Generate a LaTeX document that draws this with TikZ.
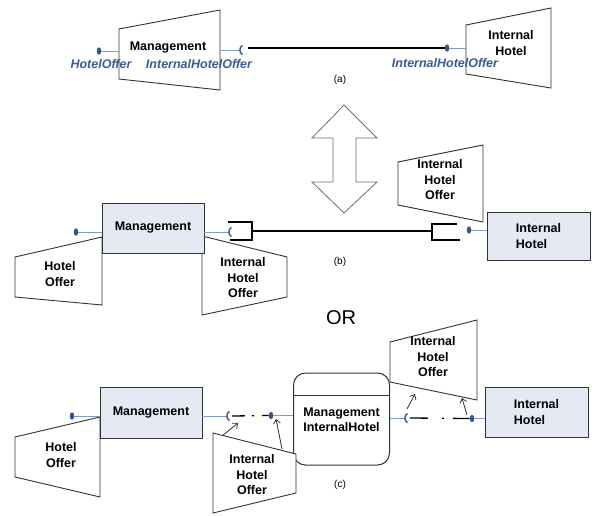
\documentclass[tikz,border=0pt]{standalone}
\usepackage{fontspec}
\setmainfont{Liberation Sans}
\usetikzlibrary{arrows.meta,shapes.geometric}

\definecolor{portline}{RGB}{127,156,200}
\definecolor{portdark}{RGB}{52,86,140}
\definecolor{labelblue}{RGB}{59,91,146}
\definecolor{boxfill}{RGB}{228,233,243}
\definecolor{edge}{RGB}{50,50,50}
\definecolor{arrowgray}{RGB}{110,110,110}

\tikzset{
  lbl/.style={font=\fontsize{12.5}{15.5}\selectfont\bfseries, align=center, inner sep=0pt},
  lblL/.style={lbl, align=left},
  portlbl/.style={font=\fontsize{12.5}{15}\selectfont\bfseries\itshape, text=labelblue, inner sep=0pt},
  caption/.style={font=\fontsize{10}{12}\selectfont, inner sep=0pt},
  box/.style={draw=edge, line width=0.9pt, fill=boxfill},
  trap/.style={draw=edge, line width=0.9pt, fill=white},
  ball/.style={ellipse, fill=portdark, minimum width=4.5pt, minimum height=7.5pt, inner sep=0pt},
  pline/.style={portline, line width=1pt},
  sock/.style={portdark, line width=1.4pt},
  wire/.style={black, line width=1.3pt},
  bracket/.style={black, line width=1.2pt},
  ptr/.style={edge, line width=0.8pt, -{Straight Barb[length=4pt,width=7pt]}},
  socket/.pic={\draw[sock] (2.5,-4.5) .. controls (-1,-3) and (-1,3) .. (2.5,4.5);}
}

\begin{document}
\begin{tikzpicture}[x=1pt,y=-1pt]
\useasboundingbox (0,0) rectangle (592,515);

% ---------------- (a) ----------------
\coordinate (tMa1) at (119,29);
\coordinate (tMa2) at (220,10);
\coordinate (tMa3) at (220,90);
\coordinate (tMa4) at (119,79);
\draw[trap] (tMa1) -- (tMa2) -- (tMa3) -- (tMa4) -- cycle;
\node[lbl] (mgmtA) at (168,48) {Management};

\coordinate (tIa1) at (466,25);
\coordinate (tIa2) at (551,8);
\coordinate (tIa3) at (551,88);
\coordinate (tIa4) at (466,74);
\draw[trap] (tIa1) -- (tIa2) -- (tIa3) -- (tIa4) -- cycle;
\node[lbl] (ihA) at (511,43) {Internal\\Hotel};

\node[ball] (hoBallA) at (99,51) {};
\draw[pline] (hoBallA) -- (hoBallA -| tMa1);

\coordinate (ihoSockA) at (240,50);
\draw[pline] (tMa2 |- ihoSockA) -- (ihoSockA);
\pic at (ihoSockA) {socket};

\coordinate (wireA) at (248,48);
\node[ball] (ihoBallA) at (447,48) {};
\draw[wire] (wireA) -- (ihoBallA.west);
\draw[pline] (ihoBallA) -- (ihoBallA -| tIa1);

\node[portlbl] (hoLblA) at (101,64) {HotelOffer};
\node[portlbl] (ihoLblA) at (199,64) {InternalHotelOffer};
\node[portlbl] (ihoLblA2) at (445,63) {InternalHotelOffer};
\node[caption] (capA) at (340,80) {(a)};

% ---------------- double arrow ----------------
\draw[arrowgray, line width=0.8pt, fill=white]
  (344,105) -- (377,138) -- (356,138) -- (356,182) -- (377,182) -- (344,213)
  -- (312,182) -- (333,182) -- (333,138) -- (312,138) -- cycle;

% ---------------- (b) ----------------
\draw[trap] (15,257) -- (102,237) -- (102,305) -- (15,297) -- cycle;
\node[lbl] (hoB) at (60,274) {Hotel\\Offer};

\draw[trap] (202,236) -- (287,257) -- (287,297) -- (202,315) -- cycle;
\node[lbl] (ihoB1) at (243,278) {Internal\\Hotel\\Offer};

\draw[trap] (398,162) -- (483,145) -- (483,222) -- (398,205) -- cycle;
\node[lbl] (ihoB2) at (440,180) {Internal\\Hotel\\Offer};

\node[box, minimum width=102pt, minimum height=50pt] (mgmtB) at (153,228) {};
\node[lbl] at (mgmtB) {Management};
\node[box, minimum width=103pt, minimum height=48pt] (ihB) at (538.5,236) {};
\node[lblL] at (ihB) {Internal\\Hotel};

\node[ball] (hoBallB) at (76,232) {};
\draw[pline] (hoBallB) -- (mgmtB.west |- hoBallB);

\coordinate (ihoSockB) at (229,232);
\draw[pline] (mgmtB.east |- ihoSockB) -- (ihoSockB);
\pic at (ihoSockB) {socket};
\draw[bracket] (228,222) -- (252,222) -- (252,240) -- (230,240);

\coordinate (brR) at (432,231);
\draw[wire] (252,231) -- (brR);
\draw[bracket] (457,224) -- (432,224) -- (432,240) -- (460,240);

\node[ball] (ihoBallB) at (469,230) {};
\draw[pline] (ihoBallB) -- (ihB.west |- ihoBallB);

\node[caption] (capB) at (340,262) {(b)};

\node[font=\fontsize{20}{24}\selectfont, inner sep=0pt] (orLbl) at (341,318) {OR};

% ---------------- (c) ----------------
\draw[trap] (15,437) -- (100,417) -- (100,497) -- (15,477) -- cycle;
\node[lbl] (hoC) at (61,455) {Hotel\\Offer};

\draw[trap] (390,342) -- (477,320) -- (477,400) -- (390,382) -- cycle;
\node[lbl] (ihoC2) at (433,357) {Internal\\Hotel\\Offer};

\node[box, minimum width=102pt, minimum height=51pt] (mgmtC) at (151,412.5) {};
\node[lbl] at (mgmtC) {Management};

\node[draw=edge, line width=1pt, fill=white, rounded corners=12pt,
      minimum width=96pt, minimum height=92pt] (mih) at (341.5,419) {};
\draw[edge, line width=1pt] ([yshift=-23pt]mih.north west) -- ([yshift=-23pt]mih.north east);
\node[lbl] (mihTxt) at (341.5,420) {Management\\InternalHotel};

% offer shape overlapping the corner of the composite
\draw[trap] (213,433) -- (296,454) -- (296,493) -- (213,513) -- cycle;
\node[lbl] (ihoC1) at (252,475) {Internal\\Hotel\\Offer};

\node[box, minimum width=103pt, minimum height=50pt] (ihC) at (536.5,412) {};
\node[lblL] at (ihC) {Internal\\Hotel};

\node[ball] (hoBallC) at (72,416) {};
\draw[pline] (hoBallC) -- (mgmtC.west |- hoBallC);

% left assembly
\coordinate (sockC1) at (227,416);
\draw[pline] (mgmtC.east |- sockC1) -- (sockC1);
\pic at (sockC1) {socket};
\node[ball] (ballC1) at (271,415.5) {};
\draw[pline] (ballC1) -- (mih.west |- ballC1);
\coordinate (dC1) at (232,416);
\draw[wire, dash pattern=on 13pt off 7pt on 2pt off 8pt on 14pt] (dC1) -- (ballC1.west);

\coordinate (pC1s) at (222,436);
\coordinate (pC1e) at (238,423);
\draw[ptr] (pC1s) -- (pC1e);
\coordinate (pC2s) at (282,449);
\coordinate (pC2e) at (276,419);
\draw[ptr] (pC2s) -- (pC2e);

% right assembly
\coordinate (sockC2) at (405,418);
\draw[pline] (mih.east |- sockC2) -- (sockC2);
\pic at (sockC2) {socket};
\node[ball] (ballC2) at (472,418.5) {};
\draw[pline] (ballC2) -- (ihC.west |- ballC2);
\coordinate (dC2) at (410,418);
\draw[wire, dash pattern=on 18pt off 14pt on 2pt off 9pt on 20pt] (dC2) -- (ballC2.west);

\coordinate (pC3s) at (407,409);
\coordinate (pC3e) at (415,394);
\draw[ptr] (pC3s) -- (pC3e);
\coordinate (pC4s) at (467,415);
\coordinate (pC4e) at (462,398);
\draw[ptr] (pC4s) -- (pC4e);

\node[caption] (capC) at (340,485) {(c)};
\end{tikzpicture}
\end{document}
